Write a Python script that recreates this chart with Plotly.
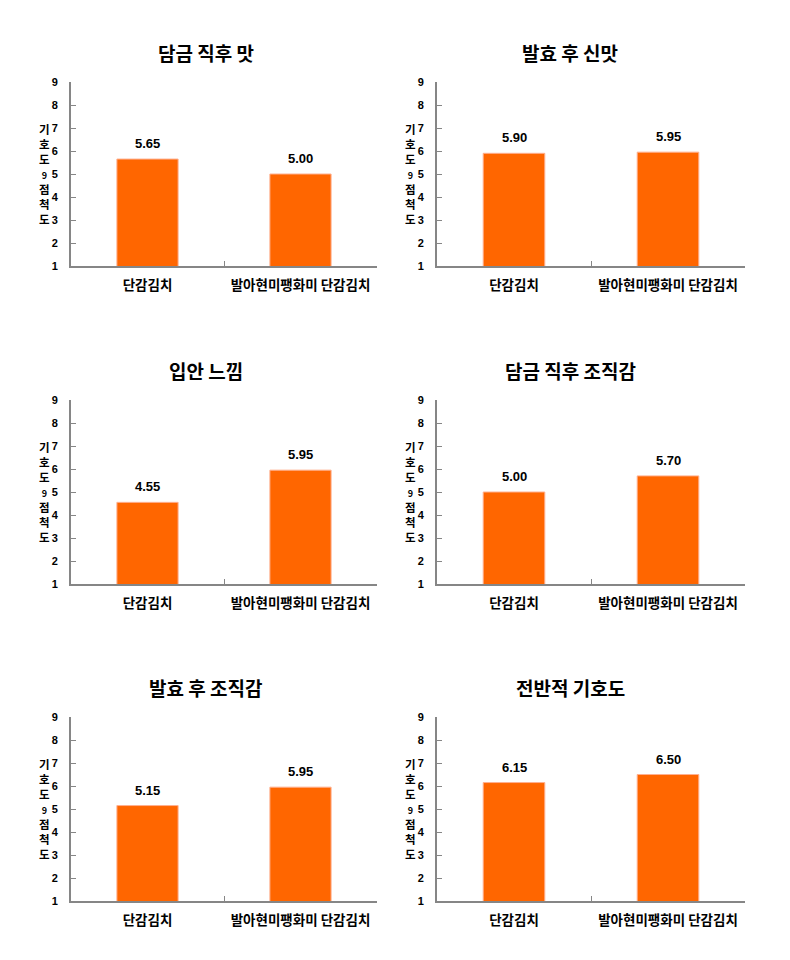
import plotly.graph_objects as go

categories = ["단감김치", "발아현미팽화미 단감김치"]
titles = ["담금 직후 맛", "발효 후 신맛", "입안 느낌", "담금 직후 조직감", "발효 후 조직감", "전반적 기호도"]
values = [
    [5.65, 5.00],
    [5.90, 5.95],
    [4.55, 5.95],
    [5.00, 5.70],
    [5.15, 5.95],
    [6.15, 6.50],
]
y_ticks = [1, 2, 3, 4, 5, 6, 7, 8, 9]
y_title_chars = ["기", "호", "도", "9", "점", "척", "도"]

W, H = 790, 960
FONT = "Noto Sans CJK KR"
BAR = "#FF6600"
AX = "#868686"

# pixel layout (left, right) for columns, (top=9, bottom=1) for rows
cols = [(71, 377), (437, 745)]
rows = [(82, 266), (400, 584), (717, 901)]
title_x = [206, 570]

y_title_text = "<br>".join(
    ch if ch != "9" else '<span style="font-size:9px">9</span>' for ch in y_title_chars
)

fig = go.Figure()
annotations = []
for i, (t, vals) in enumerate(zip(titles, values)):
    r, c = divmod(i, 2)
    n = i + 1
    xa = "xaxis" if n == 1 else f"xaxis{n}"
    ya = "yaxis" if n == 1 else f"yaxis{n}"
    xr = "x" if n == 1 else f"x{n}"
    yr = "y" if n == 1 else f"y{n}"
    x0, x1 = cols[c]
    yt, yb = rows[r]
    fig.add_trace(go.Bar(
        x=categories, y=vals, base=0, width=0.4,
        marker=dict(color=BAR, line=dict(color="#FFB090", width=1)),
        xaxis=xr, yaxis=yr, showlegend=False, hoverinfo="skip",
    ))
    fig.update_layout(**{
        xa: dict(domain=[x0 / W, x1 / W], anchor=yr, showline=True, linecolor=AX, linewidth=2,
                 ticks="inside", ticklen=5, tickcolor=AX, tickwidth=1, tickson="boundaries",
                 ticklabelstandoff=6, showgrid=False, zeroline=False, fixedrange=True,
                 tickangle=0, automargin=False,
                 tickfont=dict(family=FONT, size=13.5, color="#000", weight="bold")),
        ya: dict(domain=[1 - yb / H, 1 - yt / H], anchor=xr, range=[1, 9], tickvals=y_ticks,
                 showline=True, linecolor=AX, linewidth=2, ticks="inside", ticklen=5,
                 tickcolor=AX, tickwidth=1, ticklabelstandoff=9, showgrid=False, zeroline=False,
                 automargin=False,
                 tickfont=dict(family="Liberation Sans", size=11, color="#000", weight="bold")),
    })
    # title
    annotations.append(dict(text=t, x=title_x[c] / W, y=1 - (yt - 30) / H, xref="paper", yref="paper",
                            showarrow=False, xanchor="center", yanchor="middle",
                            font=dict(family=FONT, size=19, color="#000", weight="bold")))
    # data labels
    for cat, v in zip(categories, vals):
        annotations.append(dict(text=f"{v:.2f}", x=cat, y=v, xref=xr, yref=yr, showarrow=False,
                                xanchor="center", yanchor="bottom", yshift=6,
                                font=dict(family="Liberation Sans", size=13, color="#000", weight="bold")))
    # stacked vertical y-axis title
    annotations.append(dict(text=y_title_text, x=(x0 - 27) / W, y=1 - (yt + 92) / H,
                            xref="paper", yref="paper", showarrow=False,
                            xanchor="center", yanchor="middle", borderpad=0,
                            font=dict(family=FONT, size=11.5, color="#000", weight="bold")))

fig.update_layout(
    width=W, height=H, margin=dict(l=0, r=0, t=0, b=0),
    paper_bgcolor="white", plot_bgcolor="white",
    annotations=annotations, bargap=0.6,
)
fig.write_html("out.html")
